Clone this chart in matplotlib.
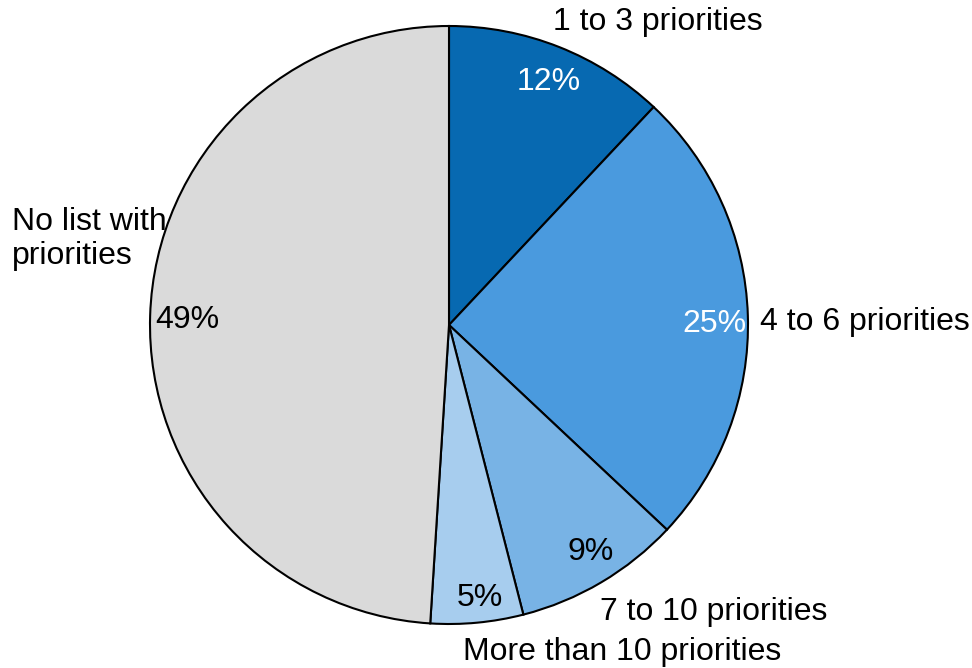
import matplotlib.pyplot as plt

plt.rcParams['font.family'] = ['Liberation Sans', 'DejaVu Sans']

categories = ["1 to 3 priorities", "4 to 6 priorities", "7 to 10 priorities",
              "More than 10 priorities", "No list with\npriorities"]
shares = [12, 25, 9, 5, 49]
colors = ["#0769b1", "#4a9ade", "#78b3e5", "#a7cdee", "#dadada"]

# text anchors in pixel space (x, y from top), alignment
label_pos = [(658, 22, "center"), (760, 322, "left"), (600, 612, "left"),
             (463, 652, "left"), (12, 239, "left")]
pct_pos = [(549, 82), (714, 324), (591, 552), (480, 598), (187, 320)]
pct_color = ["white", "white", "black", "black", "black"]

W, H = 972, 668
fig = plt.figure(figsize=(W / 100, H / 100), dpi=100)
ax = fig.add_axes([0, 0, 1, 1])
ax.set_xlim(0, W)
ax.set_ylim(0, H)
ax.set_aspect("equal")
ax.axis("off")

ax.pie(shares, colors=colors, startangle=90, counterclock=False,
       center=(449, H - 325), radius=299,
       wedgeprops=dict(edgecolor="black", linewidth=1.5))
ax.set_xlim(0, W)
ax.set_ylim(0, H)

fs = 23
for name, (x, y, ha) in zip(categories, label_pos):
    ax.text(x, H - y, name, fontsize=fs, ha=ha, va="center", linespacing=1.15)
for v, (x, y), c in zip(shares, pct_pos, pct_color):
    ax.text(x, H - y, f"{v}%", fontsize=fs, ha="center", va="center", color=c)

fig.savefig("out.png", dpi=100)
